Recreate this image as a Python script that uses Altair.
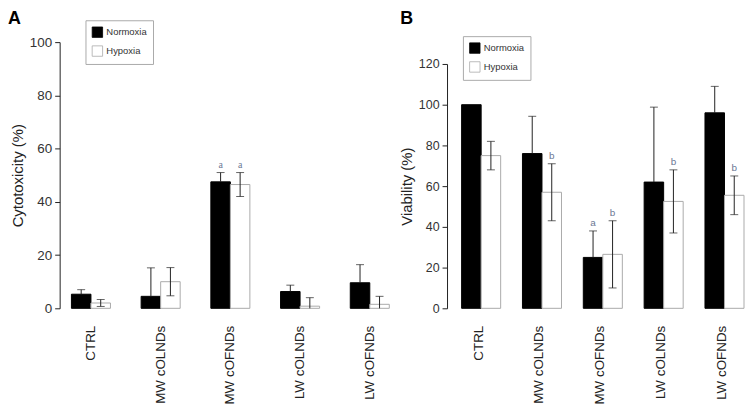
import altair as alt
import pandas as pd

categories = ["CTRL", "MW cOLNDs", "MW cOFNDs", "LW cOLNDs", "LW cOFNDs"]
conditions = ["Normoxia", "Hypoxia"]

# Panel A: Cytotoxicity (%)
a_norm = [5.3, 4.5, 47.5, 6.3, 9.6]
a_norm_err = [1.7, 10.7, 3.5, 2.4, 6.8]
a_hyp = [2.0, 10.0, 46.5, 0.8, 1.5]
a_hyp_err = [1.3, 5.3, 4.5, 3.2, 3.0]
a_norm_letter = ["", "", "a", "", ""]
a_hyp_letter = ["", "", "a", "", ""]

# Panel B: Viability (%)
b_norm = [100.0, 76.0, 25.0, 62.0, 96.0]
b_norm_err = [0.0, 18.3, 13.0, 36.8, 13.0]
b_hyp = [75.0, 57.0, 26.5, 52.5, 55.5]
b_hyp_err = [7.0, 14.0, 16.5, 15.5, 9.5]
b_norm_letter = ["", "", "a", "", ""]
b_hyp_letter = ["", "b", "b", "b", "b"]


def make_df(norm, norm_err, hyp, hyp_err, nl, hl):
    rows = []
    for i, c in enumerate(categories):
        for cond, v, e, l in (("Normoxia", norm[i], norm_err[i], nl[i]),
                              ("Hypoxia", hyp[i], hyp_err[i], hl[i])):
            low = v - e
            # lower half of the error bar is hidden inside the black bars
            vis_low = v if cond == "Normoxia" else max(low, 0.0)
            rows.append(dict(cat=c, cond=cond, value=v, err=e,
                             high=v + e, low=vis_low,
                             lowcap=(cond == "Hypoxia" and low > 0), letter=l))
    return pd.DataFrame(rows)


def panel(df, title, ytitle, ymax, yrange, width, xpad, xalign, legx, legy,
          label_size, letter_font, title_dx, title_dy):
    xenc = alt.X("cat:N", sort=categories, title=None,
                 scale=alt.Scale(paddingInner=0.44, paddingOuter=xpad, align=xalign),
                 axis=alt.Axis(labelAngle=-90, labelAlign="right", labelBaseline="middle",
                               ticks=False, domain=False, labelPadding=17,
                               labelFontSize=13.5, labelColor="#222", labelFont="Liberation Sans"))
    xoff = alt.XOffset("cond:N", sort=conditions, scale=alt.Scale(paddingInner=0))
    yscale = alt.Scale(domain=[0, ymax], range=yrange, nice=False)
    yenc = alt.Y("value:Q", scale=yscale, title=ytitle,
                 axis=alt.Axis(values=list(range(0, ymax + 1, 20)), grid=False,
                               domainColor="#222", tickColor="#222", tickSize=5,
                               labelFontSize=label_size, labelColor="#333",
                               labelFont="Liberation Sans", titleFont="Liberation Sans",
                               titleFontSize=15, titleFontWeight="normal", titleColor="#222",
                               labelPadding=3, titlePadding=4))
    bars = alt.Chart(df).mark_bar(strokeWidth=1).encode(
        x=xenc, xOffset=xoff, y=yenc,
        fill=alt.Fill("cond:N", sort=conditions,
                      scale=alt.Scale(domain=conditions, range=["black", "white"]),
                      legend=alt.Legend(orient="none", legendX=legx, legendY=legy,
                                        title=None, symbolType="square", symbolSize=110,
                                        symbolStrokeColor="#555", symbolStrokeWidth=0.8,
                                        labelFontSize=9.5, labelColor="#333",
                                        labelFont="Liberation Sans",
                                        strokeColor="#aaa", fillColor="white",
                                        padding=6, rowPadding=5, labelOffset=3)),
        stroke=alt.Stroke("cond:N", sort=conditions,
                          scale=alt.Scale(domain=conditions, range=["black", "#aaa"]),
                          legend=None),
    )
    edf = df[df["err"] > 0]
    rules = alt.Chart(edf).mark_rule(color="#222", strokeWidth=1).encode(
        x=alt.X("cat:N", sort=categories), xOffset=alt.XOffset("cond:N", sort=conditions),
        y=alt.Y("low:Q"), y2="high:Q")
    topcap = alt.Chart(edf).mark_tick(color="#222", size=8, thickness=1).encode(
        x=alt.X("cat:N", sort=categories), xOffset=alt.XOffset("cond:N", sort=conditions),
        y=alt.Y("high:Q"))
    lowcap = alt.Chart(edf[edf["lowcap"]]).mark_tick(color="#222", size=8, thickness=1).encode(
        x=alt.X("cat:N", sort=categories), xOffset=alt.XOffset("cond:N", sort=conditions),
        y=alt.Y("low:Q"))
    letters = alt.Chart(df[df["letter"] != ""]).mark_text(
        baseline="bottom", dy=-3, fontSize=10, color="#6b7894", font=letter_font).encode(
        x=alt.X("cat:N", sort=categories), xOffset=alt.XOffset("cond:N", sort=conditions),
        y=alt.Y("high:Q"), text="letter:N")
    return alt.layer(bars, rules, topcap, lowcap, letters).properties(
        width=width, height=268,
        title=alt.TitleParams(title, anchor="start", frame="group", dx=title_dx, dy=title_dy,
                              fontSize=18, fontWeight="bold", font="Liberation Sans",
                              color="black", offset=0))


dfa = make_df(a_norm, a_norm_err, a_hyp, a_hyp_err, a_norm_letter, a_hyp_letter)
dfb = make_df(b_norm, b_norm_err, b_hyp, b_hyp_err, b_norm_letter, b_hyp_letter)

pa = panel(dfa, "A", "Cytotoxicity (%)", 100, [268, 0], 338, 0.128, 0.66, 26, -22,
           13.5, "Liberation Serif", -52, 8)
pb = panel(dfb, "B", "Viability (%)", 120, [268, 22], 294, 0.12, 1.0, 16, -6,
           12.5, "Liberation Sans", -47, -8)

chart = alt.hconcat(pa, pb, spacing=4).resolve_legend(
    fill="independent", stroke="independent").resolve_scale(
    fill="independent", stroke="independent").configure_view(stroke=None).properties(
    padding=0)

chart.save("out.html", embed_options={"renderer": "svg", "actions": False})
